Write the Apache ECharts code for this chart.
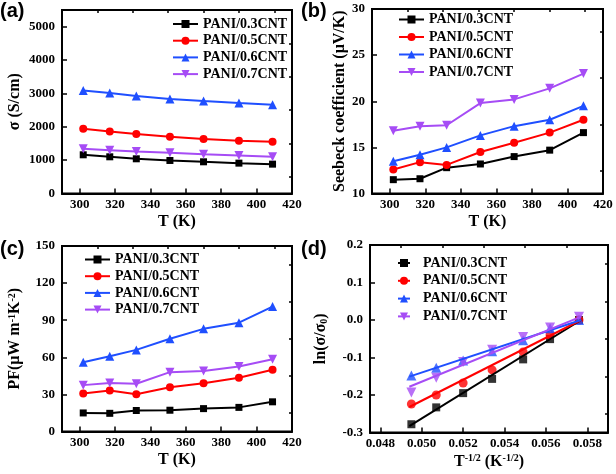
<!DOCTYPE html>
<html><head><meta charset="utf-8">
<script src="https://cdn.jsdelivr.net/npm/echarts@6/dist/echarts.min.js"></script>
<style>html,body{margin:0;padding:0;background:#fff}#c{width:616px;height:474px}</style>
</head><body><div id="c"></div>
<script>
// ---- data ----
const names = ['PANI/0.3CNT', 'PANI/0.5CNT', 'PANI/0.6CNT', 'PANI/0.7CNT'];
const T = [302, 317, 332, 351, 370, 390, 409];
// (a) electrical conductivity (S/cm)
const sigma03 = [1160, 1100, 1040, 990, 950, 910, 880];
const sigma05 = [1940, 1860, 1780, 1700, 1630, 1580, 1550];
const sigma06 = [3090, 3010, 2920, 2830, 2770, 2710, 2660];
const sigma07 = [1340, 1300, 1260, 1220, 1180, 1140, 1100];
// (b) Seebeck coefficient (uV/K)
const seebeck03 = [11.5, 11.6, 12.8, 13.2, 14.0, 14.7, 16.6];
const seebeck05 = [12.6, 13.4, 13.1, 14.5, 15.5, 16.6, 18.0];
const seebeck06 = [13.5, 14.2, 15.0, 16.3, 17.3, 18.0, 19.5];
const seebeck07 = [16.8, 17.3, 17.4, 19.8, 20.2, 21.4, 23.0];
// (c) power factor
const pf03 = [15.0, 14.7, 17.0, 17.2, 18.5, 19.5, 24.0];
const pf05 = [30.8, 33.2, 30.2, 35.7, 39.0, 43.5, 50.0];
const pf06 = [56.0, 60.8, 66.0, 75.0, 83.0, 88.0, 101.0];
const pf07 = [37.5, 39.3, 38.6, 48.0, 49.0, 52.5, 58.5];
// (d) ln(sigma/sigma0) vs T^-1/2
const invSqrtT = [0.0495, 0.0507, 0.0520, 0.0534, 0.0549, 0.0562, 0.0576];
const ln03 = [-0.278, -0.233, -0.195, -0.157, -0.105, -0.051, 0.000];
const ln05 = [-0.224, -0.200, -0.168, -0.133, -0.085, -0.040, 0.000];
const ln06 = [-0.148, -0.127, -0.108, -0.083, -0.054, -0.022, 0.000];
const ln07 = [-0.193, -0.154, -0.112, -0.079, -0.045, -0.020, 0.009];
// linear-fit lines (end points)
const fitX = [0.0494, 0.0577];
const fit03 = [-0.283, 0.000];
const fit05 = [-0.232, 0.000];
const fit06 = [-0.151, 0.000];
const fit07 = [-0.178, 0.009];
// ticks
const tTicks = [300, 320, 340, 360, 380, 400, 420];
const tMinor = [310, 330, 350, 370, 390, 410];
const sigmaTicks = [0, 1000, 2000, 3000, 4000, 5000];
const sigmaMinor = [500, 1500, 2500, 3500, 4500, 5500];
const seebeckTicks = [10, 15, 20, 25, 30];
const seebeckMinor = [12.5, 17.5, 22.5, 27.5];
const pfTicks = [0, 30, 60, 90, 120, 150];
const pfMinor = [15, 45, 75, 105, 135];
const invTicks = [0.048, 0.050, 0.052, 0.054, 0.056, 0.058];
const invMinor = [0.049, 0.051, 0.053, 0.055, 0.057];
const lnTicks = [-0.3, -0.2, -0.1, 0.0, 0.1, 0.2];
const lnMinor = [-0.25, -0.15, -0.05, 0.05, 0.15];

// ---- styling ----
const colors = ['#000000', '#ff0000', '#1f4fff', '#a64cf5'];
const symbols = ['rect', 'circle', 'triangle', 'triangle'];
const rotates = [0, 0, 0, 180];
const sizes = [7, 8, 9, 9];
const SERIF = "'Liberation Serif', 'Times New Roman', serif";

const chart = echarts.init(document.getElementById('c'), null, {renderer: 'canvas'});

const grids = [
  {left: 62, top: 10, width: 230, height: 183.5},
  {left: 372, top: 9, width: 231, height: 184.5},
  {left: 62, top: 246, width: 230, height: 185.5},
  {left: 370, top: 245, width: 238, height: 187.5}
].map(g => Object.assign(g, {show: true, borderColor: '#000', borderWidth: 2}));

function mainAxis(gi, min, max, ticks, fmt, name, nameGap, isY, rich) {
  return {
    type: 'value', gridIndex: gi, min: min, max: max,
    name: name, nameLocation: 'middle', nameGap: nameGap,
    nameTextStyle: {fontFamily: SERIF, fontWeight: 'bold', fontSize: 16, color: '#000', rich: rich},
    axisLine: {show: true, onZero: false, lineStyle: {color: '#000', width: 2}},
    axisTick: {show: true, inside: true, length: 5, customValues: ticks, lineStyle: {color: '#000', width: 1.5}},
    axisLabel: {show: true, customValues: ticks, formatter: fmt, margin: isY ? 7 : 5,
      fontFamily: SERIF, fontWeight: 'bold', fontSize: 13, color: '#000'},
    splitLine: {show: false}
  };
}
function minorAxis(gi, min, max, ticks) {
  return {
    type: 'value', gridIndex: gi, min: min, max: max,
    axisLine: {show: false, onZero: false},
    axisTick: {show: true, inside: true, length: 3, customValues: ticks, lineStyle: {color: '#000', width: 1.5}},
    axisLabel: {show: false},
    splitLine: {show: false}
  };
}
const supRich = {
  sup: {fontFamily: SERIF, fontWeight: 'bold', fontSize: 10, color: '#000', verticalAlign: 'top', padding: [0, 0, 6, 0]},
  sub: {fontFamily: SERIF, fontWeight: 'bold', fontSize: 10, color: '#000', padding: [6, 0, 0, 0]}
};

const xAxis = [
  mainAxis(0, 290, 420, tTicks, v => v, 'T (K)', 20, false),
  mainAxis(1, 290, 420, tTicks, v => v, 'T (K)', 20, false),
  mainAxis(2, 290, 420, tTicks, v => v, 'T (K)', 20, false),
  mainAxis(3, 0.0475, 0.059, invTicks, v => v.toFixed(3), 'T{sup|-1/2} (K{sup|-1/2})', 21, false, supRich),
  minorAxis(0, 290, 420, tMinor),
  minorAxis(1, 290, 420, tMinor),
  minorAxis(2, 290, 420, tMinor),
  minorAxis(3, 0.0475, 0.059, invMinor)
];
const yAxis = [
  mainAxis(0, 0, 5500, sigmaTicks, v => v, 'σ (S/cm)', 39, true),
  mainAxis(1, 10, 30, seebeckTicks, v => v, 'Seebeck coefficient (μV/K)', 22, true),
  mainAxis(2, 0, 150, pfTicks, v => v, 'PF(μW m{sup|-1}K{sup|-2})', 39, true, supRich),
  mainAxis(3, -0.3, 0.2, lnTicks, v => v.toFixed(1), 'ln(σ/σ{sub|0})', 41, true, supRich),
  minorAxis(0, 0, 5500, sigmaMinor),
  minorAxis(1, 10, 30, seebeckMinor),
  minorAxis(2, 0, 150, pfMinor),
  minorAxis(3, -0.3, 0.2, lnMinor)
];

function lineSeries(gi, xs, ys, k) {
  return {
    type: 'line', name: names[k], xAxisIndex: gi, yAxisIndex: gi,
    data: xs.map((x, i) => [x, ys[i]]),
    symbol: symbols[k], symbolRotate: rotates[k], symbolSize: sizes[k],
    showAllSymbol: true,
    lineStyle: {color: colors[k], width: 2},
    itemStyle: {color: colors[k]}
  };
}
function scatterSeries(gi, xs, ys, k) {
  return {
    type: 'scatter', name: names[k], xAxisIndex: gi, yAxisIndex: gi,
    data: xs.map((x, i) => [x, ys[i]]),
    symbol: symbols[k], symbolRotate: rotates[k], symbolSize: sizes[k] + 1,
    itemStyle: {color: colors[k]}
  };
}
function fitSeries(gi, ys, k) {
  return {
    type: 'line', name: names[k], xAxisIndex: gi, yAxisIndex: gi,
    data: fitX.map((x, i) => [x, ys[i]]), showSymbol: false,
    lineStyle: {color: colors[k], width: 2}, itemStyle: {color: colors[k]}
  };
}

const series = [];
[sigma03, sigma05, sigma06, sigma07].forEach((d, k) => series.push(lineSeries(0, T, d, k)));
[seebeck03, seebeck05, seebeck06, seebeck07].forEach((d, k) => series.push(lineSeries(1, T, d, k)));
[pf03, pf05, pf06, pf07].forEach((d, k) => series.push(lineSeries(2, T, d, k)));
[ln03, ln05, ln06, ln07].forEach((d, k) => series.push(scatterSeries(3, invSqrtT, d, k)));
[fit03, fit05, fit06, fit07].forEach((d, k) => series.push(fitSeries(3, d, k)));

function legend(left, top, gap, isLine) {
  return {
    left: left, top: top, orient: 'vertical', itemGap: gap, padding: 0,
    itemWidth: isLine ? 25 : 12, itemHeight: 10,
    data: names.slice(),
    textStyle: {fontFamily: SERIF, fontWeight: 'bold', fontSize: 14, color: '#000', padding: [0, 0, 0, isLine ? 0 : 8], lineHeight: 14}
  };
}
const legends = [
  legend(172, 17, 2.7, true),
  legend(398, 12.5, 3.5, true),
  legend(84, 252.5, 2.7, true),
  legend(397, 256, 3.8, false)
];

const LBL = "'Liberation Sans', Arial, sans-serif";
const graphic = [
  {type: 'text', left: 0, top: 1, style: {text: '(a)', fontFamily: LBL, fontWeight: 'bold', fontSize: 20, fill: '#000'}},
  {type: 'text', left: 301, top: 1, style: {text: '(b)', fontFamily: LBL, fontWeight: 'bold', fontSize: 20, fill: '#000'}},
  {type: 'text', left: 0, top: 239, style: {text: '(c)', fontFamily: LBL, fontWeight: 'bold', fontSize: 20, fill: '#000'}},
  {type: 'text', left: 301, top: 239, style: {text: '(d)', fontFamily: LBL, fontWeight: 'bold', fontSize: 20, fill: '#000'}}
];

chart.setOption({
  backgroundColor: '#fff',
  animation: false,
  grid: grids, xAxis: xAxis, yAxis: yAxis, series: series, legend: legends, graphic: graphic
});
</script></body></html>
